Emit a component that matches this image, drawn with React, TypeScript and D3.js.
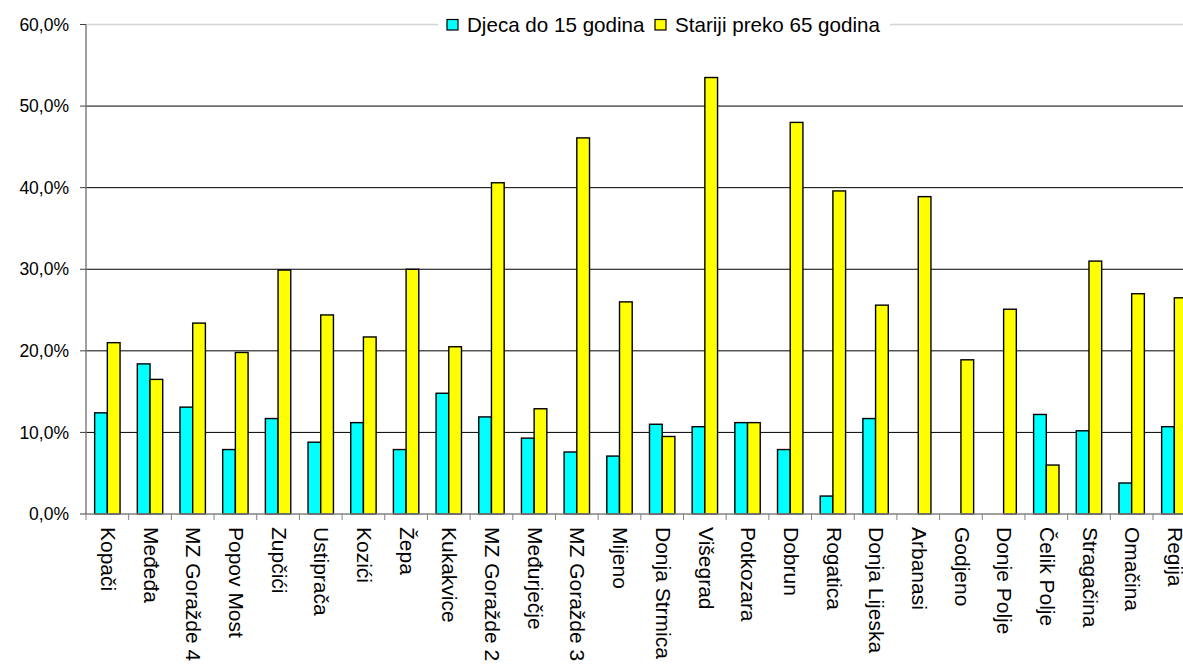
import React from "react";
import * as d3 from "d3";

const categories = [
  "Kopači", "Međeđa", "MZ Goražde 4", "Popov Most", "Zupčići", "Ustiprača", "Kozići", "Žepa",
  "Kukakvice", "MZ Goražde 2", "Međurječje", "MZ Goražde 3", "Mijeno", "Donja Strmica", "Višegrad",
  "Potkozara", "Dobrun", "Rogatica", "Donja Lijeska", "Arbanasi", "Godjeno", "Donje Polje",
  "Čelik Polje", "Stragačina", "Omačina", "Regija",
];
const children = [
  12.4, 18.4, 13.1, 7.9, 11.7, 8.8, 11.2, 7.9, 14.8, 11.9, 9.3, 7.6, 7.1, 11.0, 10.7,
  11.2, 7.9, 2.2, 11.7, 0, 0, 0, 12.2, 10.2, 3.8, 10.7,
];
const elderly = [
  21.0, 16.5, 23.4, 19.8, 29.9, 24.4, 21.7, 30.0, 20.5, 40.6, 12.9, 46.1, 26.0, 9.5, 53.5,
  11.2, 48.0, 39.6, 25.6, 38.9, 18.9, 25.1, 6.0, 31.0, 27.0, 26.5,
];
const seriesNames = ["Djeca do 15 godina", "Stariji preko 65 godina"];
const seriesColors = ["#00FFFF", "#FFFF00"];
const yTicks = [0, 10, 20, 30, 40, 50, 60];

const W = 1183;
const H = 666;
const FONT = "'Liberation Sans', Arial, sans-serif";

export default function App() {
  const left = 86;
  const step = 42.68;
  const x = d3
    .scaleBand<string>()
    .domain(categories)
    .range([left, left + step * categories.length])
    .paddingInner(0)
    .paddingOuter(0);
  const y = d3.scaleLinear().domain([0, 60]).range([514, 24.5]);
  const barW = 12.7;
  const fmt = (v: number) => d3.format(".1f")(v).replace(".", ",") + "%";
  const plotRight = W + 20;

  return (
    <div style={{ position: "fixed", left: 0, top: 0, width: W, height: H, background: "#fff" }}>
      <svg width={W} height={H} style={{ display: "block", overflow: "hidden" }} fontFamily={FONT}>
        <rect x={0} y={0} width={W} height={H} fill="#fff" />
        {/* gridlines */}
        {yTicks.map((t) => (
          <line
            key={"g" + t}
            x1={left}
            x2={plotRight}
            y1={y(t)}
            y2={y(t)}
            stroke={t === 60 ? "#d4d4d4" : t === 0 ? "none" : "#000"}
            strokeWidth={t === 60 ? 1.5 : 1}
          />
        ))}
        {/* bars */}
        {categories.map((c, i) => {
          const cx = (x(c) as number) + x.bandwidth() / 2;
          return (
            <g key={c}>
              {[children[i], elderly[i]].map((v, s) =>
                v > 0 ? (
                  <rect
                    key={s}
                    x={cx - barW + s * barW}
                    y={y(v)}
                    width={barW}
                    height={y(0) - y(v)}
                    fill={seriesColors[s]}
                    stroke="#000"
                    strokeWidth={1.4}
                  />
                ) : null
              )}
            </g>
          );
        })}
        {/* y axis */}
        <line x1={left} x2={left} y1={y(60)} y2={y(0)} stroke="#808080" strokeWidth={1.5} />
        {yTicks.map((t) => (
          <g key={"t" + t}>
            <line x1={left - 6} x2={left} y1={y(t)} y2={y(t)} stroke="#404040" strokeWidth={1} />
            <text
              x={left - 17}
              y={y(t)}
              dy="0.35em"
              textAnchor="end"
              fontSize={17.5}
              fill="#000"
            >
              {fmt(t)}
            </text>
          </g>
        ))}
        {/* x axis */}
        <line x1={left} x2={plotRight} y1={y(0)} y2={y(0)} stroke="#808080" strokeWidth={1.5} />
        {categories.map((c) => (
          <line
            key={"xt" + c}
            x1={x(c) as number}
            x2={x(c) as number}
            y1={y(0)}
            y2={y(0) + 6}
            stroke="#808080"
            strokeWidth={1}
          />
        ))}
        <line
          x1={left + step * categories.length}
          x2={left + step * categories.length}
          y1={y(0)}
          y2={y(0) + 6}
          stroke="#808080"
        />
        {categories.map((c) => {
          const cx = (x(c) as number) + x.bandwidth() / 2 + 1;
          return (
            <text
              key={"xl" + c}
              transform={`translate(${cx},527) rotate(90)`}
              dy="0.35em"
              textAnchor="start"
              fontSize={21}
              fill="#000"
            >
              {c}
            </text>
          );
        })}
        {/* legend */}
        <rect x={438} y={10} width={452} height={28} fill="#fff" />
        {seriesNames.map((n, s) => {
          const lx = s === 0 ? 447 : 655;
          return (
            <g key={n}>
              <rect x={lx} y={19.5} width={11} height={10.5} fill={seriesColors[s]} stroke="#000" strokeWidth={1.2} />
              <text x={lx + 20} y={24.8} dy="0.35em" fontSize={20.6} fill="#000">
                {n}
              </text>
            </g>
          );
        })}
      </svg>
    </div>
  );
}
